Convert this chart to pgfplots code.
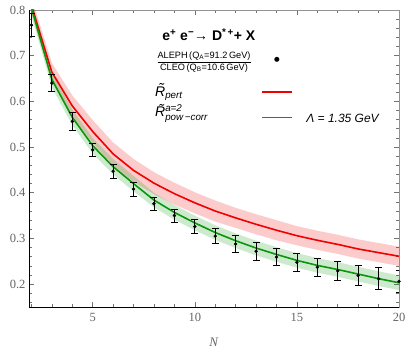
\documentclass[border=0pt]{standalone}
\usepackage{pgfplots}
\pgfplotsset{compat=1.18}
\usepackage{pgfplotstable}
\usepackage{amsmath}
\usepackage{fontspec}
\setmainfont{Liberation Serif}
\newfontfamily\arial{Liberation Sans}
\newfontfamily\dejavu{DejaVu Sans}
\definecolor{mred}{RGB}{240,0,0}
\definecolor{mgreen}{RGB}{10,150,10}
\definecolor{tickgray}{RGB}{100,100,100}
\newcommand{\tR}{\leavevmode\ooalign{R\cr\hidewidth\kern0.15em\raisebox{0.2em}{\char"02DC}\hidewidth\cr}}

\pgfplotstableread{
N y e
2 0.767 0.025
3 0.640 0.019
4 0.556 0.020
5 0.494 0.015
6 0.447 0.015
7 0.408 0.015
8 0.376 0.014
9 0.350 0.014
10 0.326 0.016
11 0.305 0.016
12 0.288 0.018
13 0.272 0.019
14 0.259 0.019
15 0.248 0.020
16 0.237 0.020
17 0.229 0.021
18 0.219 0.022
19 0.212 0.024
20 0.206 0.024
}\datatab

\pgfplotstableread{
N m
2 0.810
3 0.664
4 0.590
5 0.534
6 0.485
7 0.449
8 0.421
9 0.398
10 0.378
11 0.360
12 0.345
13 0.331
14 0.318
15 0.306
16 0.296
17 0.287
18 0.277
19 0.269
20 0.261
}\redtab

% red band: upper edge N=2..20, then lower edge N=20..2
\pgfplotstableread{
N b
2 0.828
3 0.684
4 0.613
5 0.559
6 0.510
7 0.474
8 0.445
9 0.422
10 0.401
11 0.383
12 0.367
13 0.353
14 0.340
15 0.327
16 0.317
17 0.308
18 0.298
19 0.290
20 0.282
20 0.240
19 0.248
18 0.256
17 0.266
16 0.275
15 0.285
14 0.296
13 0.309
12 0.323
11 0.337
10 0.355
9 0.374
8 0.397
7 0.424
6 0.460
5 0.509
4 0.567
3 0.644
2 0.792
}\redband

\pgfplotstableread{
N m
2 0.805
3 0.648
4 0.565
5 0.503
6 0.457
7 0.420
8 0.384
9 0.357
10 0.334
11 0.313
12 0.295
13 0.279
14 0.265
15 0.252
16 0.241
17 0.232
18 0.222
19 0.212
20 0.203
}\greentab

% green band: upper edge N=2..20, then lower edge N=20..2
\pgfplotstableread{
N b
2 0.822
3 0.665
4 0.582
5 0.520
6 0.474
7 0.437
8 0.400
9 0.373
10 0.350
11 0.329
12 0.311
13 0.295
14 0.281
15 0.268
16 0.257
17 0.248
18 0.238
19 0.228
20 0.219
20 0.187
19 0.196
18 0.206
17 0.216
16 0.225
15 0.236
14 0.249
13 0.263
12 0.279
11 0.297
10 0.318
9 0.341
8 0.368
7 0.403
6 0.440
5 0.486
4 0.548
3 0.631
2 0.788
}\greenband

\begin{document}
\begin{tikzpicture}
\begin{axis}[
  scale only axis, width=370pt, height=297pt,
  xmin=1.88, xmax=20, ymin=0.15, ymax=0.8,
  xtick={5,10,15,20}, minor xtick={2,3,...,20},
  ytick={0.2,0.3,0.4,0.5,0.6,0.7,0.8},
  minor ytick={0.16,0.18,...,0.8},
  tick align=inside, major tick length=5pt, minor tick length=3pt,
  axis line style={draw=gray!85, line width=0.9pt},
  tick style={draw=gray!90!black, line width=0.6pt},
  /pgf/number format/assume math mode=true,
  yticklabel style={/pgf/number format/.cd, fixed, fixed zerofill, precision=1},
  xticklabel style={yshift=-3pt},
  ticklabel style={font=\fontsize{12.5}{14}\selectfont, text=tickgray},
  xlabel={\textit{N}},
  xlabel style={font=\fontsize{13}{15}\selectfont, text=tickgray, yshift=-9pt},
]
\addplot[fill=mred, fill opacity=0.2, draw=none, forget plot] table[x=N,y=b] {\redband};
\addplot[fill=mgreen, fill opacity=0.2, draw=none, forget plot] table[x=N,y=b] {\greenband};

\addplot[mred, line width=1.6pt, forget plot] table[x=N,y=m] {\redtab};
\addplot[mgreen, line width=1.6pt, forget plot] table[x=N,y=m] {\greentab};

\addplot[only marks, mark=*, mark size=1.5pt, black, forget plot,
  error bars/.cd, y dir=both, y explicit,
  error bar style={line width=0.8pt},
  error mark options={rotate=90, mark size=3.5pt, line width=0.8pt},
  ] table[x=N, y=y, y error=e] {\datatab};

% legend keys (set as text)
\node[anchor=center, inner sep=0pt, font=\dejavu\fontsize{6.5}{7}\selectfont, text=black] at (rel axis cs:0.6703,0.8316) {●};
\node[anchor=west, inner sep=0pt] at (rel axis cs:0.6297,0.7229) {\textcolor{mred}{\rule[-0.8pt]{30pt}{1.6pt}}};
\node[anchor=west, inner sep=0pt] at (rel axis cs:0.6297,0.6374) {\textcolor{mgreen}{\rule[-0.8pt]{30pt}{1.6pt}}};

\node[anchor=center, font=\arial\bfseries\fontsize{14}{16}\selectfont] at (rel axis cs:0.486,0.916) {e\textsuperscript{+} e\textsuperscript{−}→ D\textsuperscript{*\,+}+ X};
\node[anchor=center, inner sep=0pt, font=\arial\fontsize{9.2}{10}\selectfont] at (rel axis cs:0.473,0.825) {$\dfrac{\text{ALEPH\,(Q\textsubscript{A}=91.2\,GeV)}}{\text{CLEO\,(Q\textsubscript{B}=10.6\,GeV)}}$};
\node[anchor=base west, inner sep=0pt, font=\arial\itshape\fontsize{14}{16}\selectfont] at (rel axis cs:0.3405,0.710) {\tR\textsubscript{pert}};
\node[anchor=base west, inner sep=0pt, font=\arial\itshape\fontsize{14}{16}\selectfont] at (rel axis cs:0.3405,0.640) {$\text{\tR}^{\text{a=2}}_{\text{pow\,−corr}}$};
\node[anchor=west, font=\arial\itshape\fontsize{12}{14}\selectfont] at (rel axis cs:0.74,0.636) {Λ = 1.35 GeV};
\end{axis}
\draw[black, line width=0.9pt] (current axis.north west) -- (current axis.south west) -- (current axis.south east);
\pgfresetboundingbox
\path[use as bounding box] ([xshift=-29pt,yshift=-46pt]current axis.south west) rectangle ([xshift=8pt,yshift=10pt]current axis.north east);
\end{tikzpicture}
\end{document}
